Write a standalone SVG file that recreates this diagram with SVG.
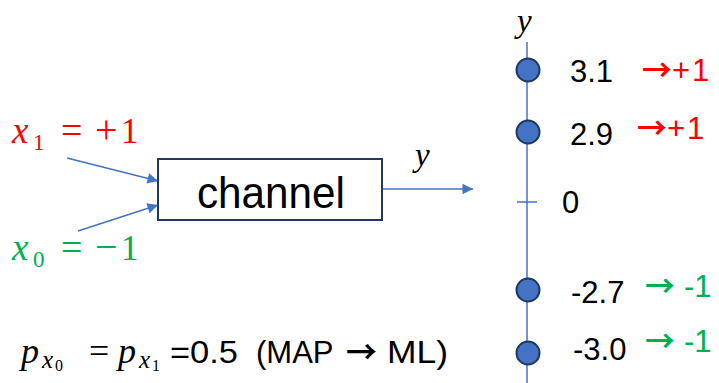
<svg xmlns="http://www.w3.org/2000/svg" width="719" height="383" viewBox="0 0 719 383">
<style>
.ln{stroke:#4472c4;stroke-width:1.5;fill:none}
.dot{fill:#4472c4;stroke:#1f3864;stroke-width:2}
.num{font-family:"Liberation Sans",Arial,sans-serif;font-size:31px;fill:#000}
.math{font-family:"Liberation Serif","DejaVu Serif",serif;font-size:33px}
.it{font-style:italic}
.red{fill:#ff0000}
.grn{fill:#00b050}
.arr{font-family:"Noto Sans CJK SC","DejaVu Sans",sans-serif;font-weight:bold}
</style>
<defs>
<marker id="ah" viewBox="0 0 10 10" refX="10" refY="5" markerWidth="8" markerHeight="7" markerUnits="strokeWidth" orient="auto">
<path d="M0,0 L10,5 L0,10 z" fill="#4472c4"/>
</marker>
</defs>
<g id="connectors">
<line class="ln" x1="67" y1="158" x2="158" y2="181" marker-end="url(#ah)"/>
<line class="ln" x1="78" y1="231" x2="158" y2="205" marker-end="url(#ah)"/>
<line class="ln" x1="382" y1="189" x2="473" y2="189" marker-end="url(#ah)"/>
</g>
<g id="channel">
<rect x="158" y="159" width="224" height="61" fill="#fff" stroke="#1f3864" stroke-width="2"/>
<text x="197" y="208" font-family="'Liberation Sans',Arial,sans-serif" font-size="44" textLength="148" lengthAdjust="spacingAndGlyphs">channel</text>
</g>
<g id="y-label">
<text x="415" y="166" class="math it" font-size="32">y</text>
</g>
<g id="x1">
<text y="143" class="math red"><tspan x="12" class="it" font-size="37">x</tspan><tspan x="33" font-size="23" dy="7">1</tspan><tspan x="61" dy="-7" font-size="38">=</tspan><tspan x="95" font-size="40">+</tspan><tspan x="121" font-size="35">1</tspan></text>
</g>
<g id="x0">
<text y="260" class="math grn"><tspan x="12" class="it" font-size="37">x</tspan><tspan x="33" font-size="23" dy="7">0</tspan><tspan x="61" dy="-7" font-size="38">=</tspan><tspan x="95" font-size="40">−</tspan><tspan x="121" font-size="35">1</tspan></text>
</g>
<g id="axis">
<line class="ln" x1="527" y1="42" x2="527" y2="383"/>
<line class="ln" x1="517" y1="202" x2="537" y2="202"/>
<text x="517" y="32" class="math it" font-size="32">y</text>
<text x="562" y="213" class="num">0</text>
</g>
<g id="p1">
<circle class="dot" cx="528" cy="70" r="11.5"/>
<text x="570" y="82" class="num">3.1</text>
<text y="81" class="num red"><tspan x="642" class="arr" font-size="30">→</tspan><tspan x="672">+</tspan><tspan x="692">1</tspan></text>
</g>
<g id="p2">
<circle class="dot" cx="528" cy="132" r="11.5"/>
<text x="570" y="145" class="num">2.9</text>
<text y="139" class="num red"><tspan x="637" class="arr" font-size="30">→</tspan><tspan x="667">+</tspan><tspan x="687">1</tspan></text>
</g>
<g id="p3">
<circle class="dot" cx="528" cy="290" r="11.5"/>
<text x="571" y="303" class="num">-2.7</text>
<text y="297" class="num grn"><tspan x="645" class="arr" font-size="30">→</tspan><tspan x="684">-1</tspan></text>
</g>
<g id="p4">
<circle class="dot" cx="528" cy="353" r="11.5"/>
<text x="573" y="360" class="num">-3.0</text>
<text y="352" class="num grn"><tspan x="645" class="arr" font-size="30">→</tspan><tspan x="684">-1</tspan></text>
</g>
<g id="prior">
<text y="363" font-family="'Liberation Serif',serif" font-size="36"><tspan x="21" class="it">p</tspan><tspan x="42" class="it" font-size="25" dy="5">x</tspan><tspan x="55" font-size="16" dy="3">0</tspan><tspan x="89" dy="-8">=</tspan><tspan x="118" class="it">p</tspan><tspan x="139" class="it" font-size="25" dy="5">x</tspan><tspan x="152" font-size="16" dy="3">1</tspan></text>
<text y="363" class="num" font-size="30"><tspan x="170" textLength="68" lengthAdjust="spacingAndGlyphs">=0.5</tspan><tspan x="256">(MAP</tspan><tspan x="346" class="arr">→</tspan><tspan x="387" textLength="61" lengthAdjust="spacingAndGlyphs">ML)</tspan></text>
</g>
</svg>
